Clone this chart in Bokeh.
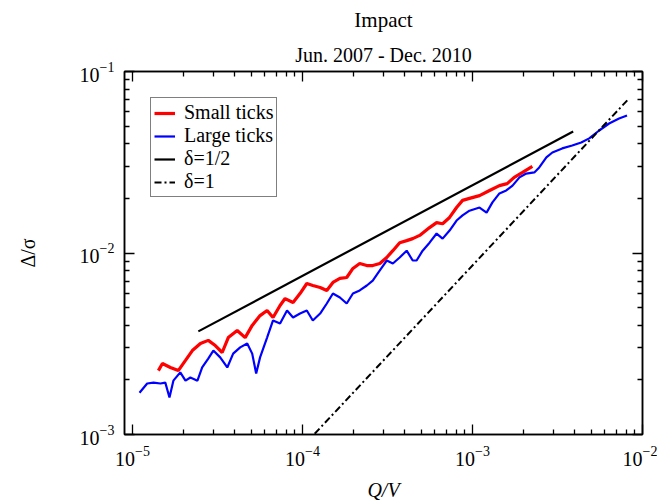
from bokeh.plotting import figure
from bokeh.models import LogAxis, FixedTicker, Title, Range1d, CustomJSTickFormatter
from bokeh.embed import file_html
from bokeh.resources import INLINE

# ---- data ----
small_x = [1.42e-5, 1.50e-5, 1.67e-5, 1.86e-5, 2.05e-5, 2.25e-5, 2.51e-5, 2.79e-5, 3.07e-5, 3.37e-5,
           3.66e-5, 4.13e-5, 4.60e-5, 5.06e-5, 5.63e-5, 6.19e-5, 6.71e-5, 7.38e-5, 7.90e-5, 8.80e-5,
           9.67e-5, 1.06e-4, 1.15e-4, 1.27e-4, 1.39e-4, 1.51e-4, 1.66e-4, 1.82e-4, 1.98e-4, 2.17e-4,
           2.39e-4, 2.59e-4, 2.85e-4, 3.13e-4, 3.40e-4, 3.73e-4, 4.10e-4, 4.45e-4, 4.89e-4, 5.59e-4,
           6.15e-4, 6.67e-4, 7.33e-4, 8.06e-4, 8.74e-4, 9.60e-4, 1.10e-3, 1.26e-3, 1.44e-3, 1.60e-3,
           1.76e-3, 1.97e-3, 2.25e-3]
small_y = [2.25e-3, 2.46e-3, 2.34e-3, 2.25e-3, 2.56e-3, 2.90e-3, 3.17e-3, 3.30e-3, 3.09e-3, 2.83e-3,
           3.42e-3, 3.74e-3, 3.42e-3, 3.99e-3, 4.52e-3, 4.82e-3, 4.41e-3, 5.14e-3, 5.61e-3, 5.34e-3,
           5.98e-3, 6.79e-3, 6.62e-3, 6.46e-3, 6.22e-3, 6.88e-3, 7.24e-3, 7.33e-3, 8.22e-3, 8.75e-3,
           8.53e-3, 8.53e-3, 8.75e-3, 9.45e-3, 1.03e-2, 1.14e-2, 1.17e-2, 1.20e-2, 1.25e-2, 1.38e-2,
           1.47e-2, 1.45e-2, 1.57e-2, 1.78e-2, 1.95e-2, 2.00e-2, 2.07e-2, 2.21e-2, 2.35e-2, 2.41e-2,
           2.61e-2, 2.78e-2, 3.00e-2]

large_x = [1.10e-5, 1.22e-5, 1.33e-5, 1.46e-5, 1.56e-5, 1.65e-5, 1.74e-5, 1.91e-5, 2.05e-5, 2.19e-5,
           2.41e-5, 2.57e-5, 2.79e-5, 2.99e-5, 3.28e-5, 3.61e-5, 3.91e-5, 4.30e-5, 4.73e-5, 5.06e-5,
           5.34e-5, 5.63e-5, 6.19e-5, 6.71e-5, 7.38e-5, 8.11e-5, 8.80e-5, 9.67e-5, 1.06e-4, 1.15e-4,
           1.27e-4, 1.39e-4, 1.51e-4, 1.66e-4, 1.82e-4, 1.98e-4, 2.17e-4, 2.39e-4, 2.59e-4, 2.85e-4,
           3.13e-4, 3.40e-4, 3.73e-4, 4.10e-4, 4.45e-4, 4.69e-4, 5.09e-4, 5.59e-4, 6.15e-4, 6.67e-4,
           7.33e-4, 8.06e-4, 8.74e-4, 9.60e-4, 1.10e-3, 1.21e-3, 1.31e-3, 1.44e-3, 1.58e-3, 1.72e-3,
           1.89e-3, 2.07e-3, 2.31e-3, 2.47e-3, 2.72e-3, 2.95e-3, 3.37e-3, 3.86e-3, 4.36e-3, 4.86e-3,
           5.56e-3, 6.36e-3, 7.28e-3, 8.11e-3]
large_y = [1.70e-3, 1.91e-3, 1.93e-3, 1.91e-3, 1.93e-3, 1.60e-3, 1.98e-3, 2.20e-3, 1.98e-3, 2.06e-3,
           1.98e-3, 2.34e-3, 2.62e-3, 2.90e-3, 2.66e-3, 2.34e-3, 2.79e-3, 3.02e-3, 3.17e-3, 2.79e-3,
           2.17e-3, 2.66e-3, 3.42e-3, 4.25e-3, 4.09e-3, 4.82e-3, 4.41e-3, 4.64e-3, 4.82e-3, 4.25e-3,
           4.64e-3, 5.27e-3, 5.98e-3, 5.69e-3, 5.27e-3, 5.98e-3, 6.22e-3, 6.62e-3, 7.05e-3, 8.01e-3,
           9.09e-3, 8.75e-3, 9.45e-3, 1.03e-2, 9.09e-3, 9.09e-3, 1.03e-2, 1.14e-2, 1.28e-2, 1.20e-2,
           1.33e-2, 1.51e-2, 1.61e-2, 1.71e-2, 1.78e-2, 1.67e-2, 1.90e-2, 2.13e-2, 2.21e-2, 2.35e-2,
           2.61e-2, 2.74e-2, 2.78e-2, 2.96e-2, 3.36e-2, 3.58e-2, 3.77e-2, 3.91e-2, 4.06e-2, 4.28e-2,
           4.73e-2, 5.17e-2, 5.51e-2, 5.72e-2]

half_x = [2.44e-5, 3.91e-3]
half_y = [3.70e-3, 4.67e-2]
one_x = [1.18e-4, 8.22e-3]
one_y = [1.01e-3, 7.01e-2]

x_major = [1e-5, 1e-4, 1e-3, 1e-2]
y_major = [1e-3, 1e-2, 1e-1]
mant = [2, 3, 4, 5, 6, 7, 8, 9]
x_minor = [m * d for d in [1e-5, 1e-4, 1e-3] for m in mant]
y_minor = [m * d for d in [1e-3, 1e-2] for m in mant]

FONT = "Liberation Serif"

p = figure(width=657, height=503, x_axis_type="log", y_axis_type="log",
           x_range=Range1d(10 ** -5.047, 1e-2), y_range=Range1d(1e-3, 1e-1),
           output_backend="svg", toolbar_location=None,
           min_border_left=124, min_border_right=15, min_border_top=71, min_border_bottom=69)
p.grid.visible = False
p.background_fill_color = "white"
p.border_fill_color = "white"
p.outline_line_color = "black"
p.outline_line_width = 1.5

p.title.text = "Impact"
p.title.text_font = FONT
p.title.text_font_size = "21px"
p.title.text_font_style = "normal"
p.title.text_color = "black"
p.title.align = "center"
p.title.standoff = 8


def style(ax, labels=True):
    ax.axis_line_color = "black"
    ax.axis_line_width = 1.5
    ax.major_tick_in = 10
    ax.major_tick_out = 0
    ax.minor_tick_in = 5
    ax.minor_tick_out = 0
    ax.major_tick_line_width = 1.3
    ax.minor_tick_line_width = 1.3
    ax.major_tick_line_color = "black"
    ax.minor_tick_line_color = "black"
    ax.major_label_text_font = FONT
    ax.major_label_text_font_size = "20px"
    ax.major_label_text_color = "black"
    ax.axis_label_text_font = FONT
    ax.axis_label_text_font_size = "20px"
    ax.axis_label_text_color = "black"
    if not labels:
        ax.formatter = CustomJSTickFormatter(code="return ''")
        ax.major_label_standoff = 0


xa = p.xaxis[0]
xa.ticker = FixedTicker(ticks=x_major, minor_ticks=x_minor)
style(xa)
xa.axis_label = "Q/V"
xa.axis_label_text_font_style = "italic"
xa.axis_label_standoff = 10
xa.major_label_standoff = 11

ya = p.yaxis[0]
ya.ticker = FixedTicker(ticks=y_major, minor_ticks=y_minor)
style(ya)
ya.axis_label = "Δ/σ"
ya.axis_label_text_font_style = "normal"
ya.axis_label_standoff = 38
ya.major_label_standoff = 10

top = LogAxis(ticker=FixedTicker(ticks=x_major, minor_ticks=x_minor))
style(top, labels=False)
p.add_layout(top, "above")
right = LogAxis(ticker=FixedTicker(ticks=y_major, minor_ticks=y_minor))
style(right, labels=False)
p.add_layout(right, "right")

sub = Title(text="Jun. 2007 - Dec. 2010", text_font=FONT, text_font_size="20px",
            text_font_style="normal", text_color="black", align="center", standoff=12)
p.add_layout(sub, "above")

p.line(small_x, small_y, line_color="#ff0000", line_width=3.2, legend_label="Small ticks")
p.line(large_x, large_y, line_color="#0000ff", line_width=2.2, legend_label="Large ticks")
p.line(half_x, half_y, line_color="black", line_width=2.2, legend_label="δ=1/2")
p.line(one_x, one_y, line_color="black", line_width=2, line_dash="7 3 2 3", legend_label="δ=1")

lg = p.legend[0]
lg.location = "top_left"
lg.margin = 26
lg.padding = 3
lg.spacing = 0
lg.glyph_width = 21
lg.glyph_height = 20
lg.label_height = 20
lg.label_standoff = 9
lg.label_text_font = FONT
lg.label_text_font_size = "20px"
lg.label_text_line_height = 1.0
lg.label_text_color = "black"
lg.border_line_color = "black"
lg.border_line_width = 1.2
lg.background_fill_alpha = 1.0

open("out.html", "w").write(file_html(p, INLINE))
